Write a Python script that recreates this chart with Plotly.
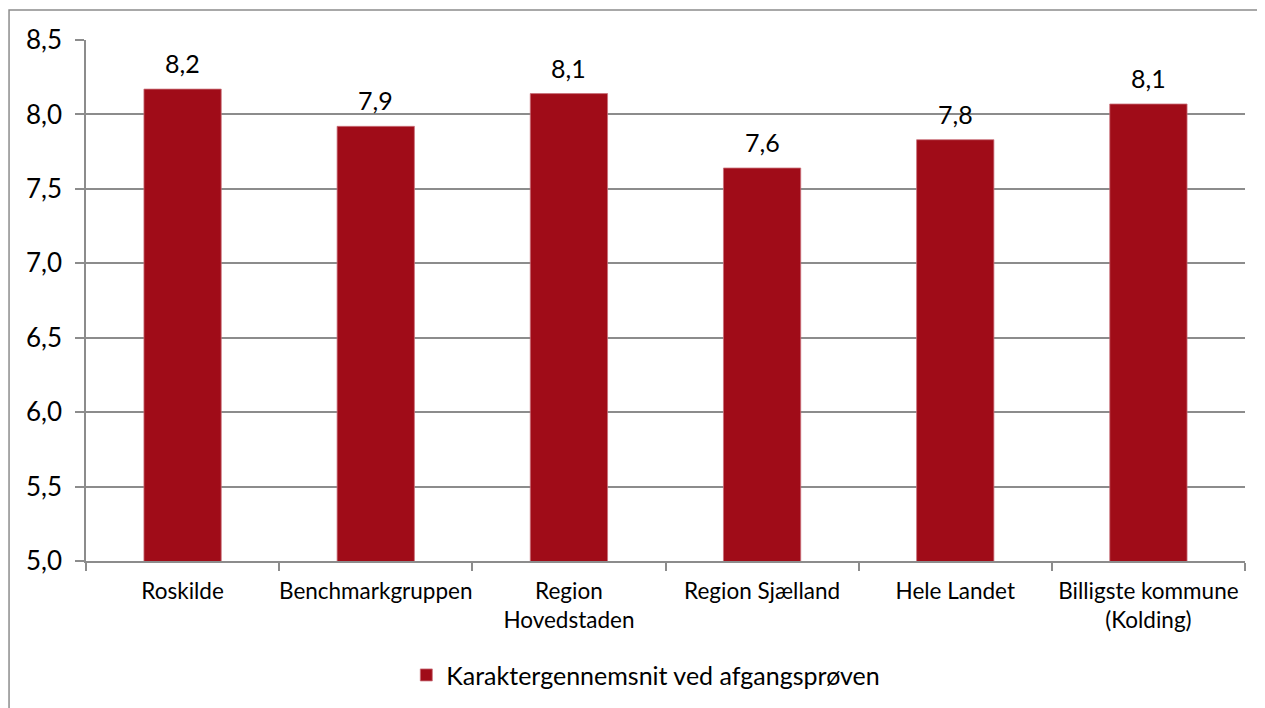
import plotly.graph_objects as go

categories = [
    "Roskilde",
    "Benchmarkgruppen",
    "Region<br>Hovedstaden",
    "Region Sjælland",
    "Hele Landet",
    "Billigste kommune<br>(Kolding)",
]
values = [8.17, 7.92, 8.14, 7.64, 7.83, 8.07]
series_name = "Karaktergennemsnit ved afgangsprøven"
y_ticks = [5.0, 5.5, 6.0, 6.5, 7.0, 7.5, 8.0, 8.5]

BAR_COLOR = "#A00C18"
GRID_COLOR = "#8c8c8c"
FONT = "Lato, Carlito, Calibri, sans-serif"

fig = go.Figure()
fig.add_trace(
    go.Bar(
        x=categories,
        y=values,
        name=series_name,
        marker={"color": BAR_COLOR, "line": {"color": "#c9707a", "width": 0.8}},
        showlegend=True,
    )
)

for cat, val in zip(categories, values):
    fig.add_annotation(
        x=cat,
        y=val,
        text=f"{val:.1f}".replace(".", ","),
        showarrow=False,
        yanchor="bottom",
        yshift=9,
        font={"size": 25, "color": "#000000", "family": FONT},
    )

# outer frame of the chart object
fig.add_shape(
    type="rect",
    xref="paper",
    yref="paper",
    x0=-0.0664,
    x1=1.2,
    y0=-0.6,
    y1=1.0576,
    line={"color": GRID_COLOR, "width": 1.5},
    fillcolor="rgba(0,0,0,0)",
    layer="below",
)

# the page body adds an 8px offset, margins are set so the plot lands where the reference has it
fig.update_layout(
    width=1265,
    height=708,
    margin={"l": 78, "r": 28, "t": 32, "b": 155},
    plot_bgcolor="white",
    paper_bgcolor="white",
    separators=",.",
    bargap=0.6,
    font={"family": FONT, "color": "#000000"},
    legend={
        "orientation": "h",
        "x": 0.483,
        "xanchor": "center",
        "y": -0.175,
        "yanchor": "top",
        "font": {"size": 25, "family": FONT},
    },
)

fig.update_xaxes(
    showline=True,
    linecolor=GRID_COLOR,
    linewidth=2,
    ticks="outside",
    tickson="boundaries",
    ticklen=8,
    tickcolor=GRID_COLOR,
    tickwidth=1.5,
    tickangle=0,
    ticklabelstandoff=9,
    automargin=False,
    tickfont={"size": 22.5, "family": FONT},
    showgrid=False,
)

fig.update_yaxes(
    range=[5.0, 8.5],
    tickvals=y_ticks,
    tickformat=".1f",
    showline=True,
    linecolor=GRID_COLOR,
    linewidth=1.5,
    ticks="outside",
    ticklen=9,
    tickcolor=GRID_COLOR,
    tickwidth=1.5,
    ticklabelstandoff=8,
    automargin=False,
    showgrid=True,
    gridcolor=GRID_COLOR,
    gridwidth=1.5,
    zeroline=False,
    tickfont={"size": 26, "family": FONT},
)

fig.write_html("out.html")
